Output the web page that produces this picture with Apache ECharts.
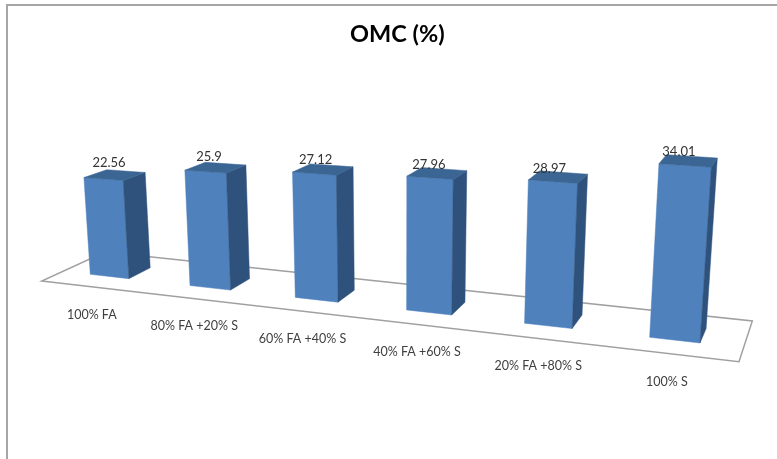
<!DOCTYPE html>
<html>
<head>
<meta charset="utf-8">
<style>html,body{margin:0;padding:0;background:#fff}#c{width:777px;height:459px}</style>
<script src="https://cdn.jsdelivr.net/npm/echarts@6/dist/echarts.min.js"></script>
</head>
<body>
<div id="c"></div>
<script>
var categories = ['100% FA', '80% FA +20% S', '60% FA +40% S', '40% FA +60% S', '20% FA +80% S', '100% S'];
var omcValues = [22.56, 25.9, 27.12, 27.96, 28.97, 34.01];

// Perspective set-up (style only): floor quad, vertical vanishing point
var quad = [[41.7, 281], [739, 361.7], [752.3, 321], [105, 252]];
var vanish = [400, 5000];
var BAR_FRAC = 0.39, W_FRONT = 0.32, W_BACK = 0.68;
var GRID = {left: 42, top: 160, width: 697, height: 200};
var Y_MAX = 40;

var H = (function () {
  var x0 = quad[0][0], y0 = quad[0][1], x1 = quad[1][0], y1 = quad[1][1],
      x2 = quad[2][0], y2 = quad[2][1], x3 = quad[3][0], y3 = quad[3][1];
  var dx1 = x1 - x2, dx2 = x3 - x2, sx = x0 - x1 + x2 - x3,
      dy1 = y1 - y2, dy2 = y3 - y2, sy = y0 - y1 + y2 - y3;
  var den = dx1 * dy2 - dx2 * dy1;
  var g = (sx * dy2 - dx2 * sy) / den, h = (dx1 * sy - sx * dy1) / den;
  return {a: x1 - x0 + g * x1, b: x3 - x0 + h * x3, c: x0,
          d: y1 - y0 + g * y1, e: y3 - y0 + h * y3, f: y0, g: g, h: h};
})();
function floorPt(u, w) {
  var q = H.g * u + H.h * w + 1;
  return [(H.a * u + H.b * w + H.c) / q, (H.d * u + H.e * w + H.f) / q];
}
// small lens correction of the category position along the floor
function bend(u) {
  var t = (u - 0.5) / 0.417;
  return u - 0.0062 + 0.002 * t * t;
}
// lift a floor point by a value-axis height
function lift(u, w, gridPx) {
  var P = floorPt(u, w);
  var unitPx = GRID.height / Y_MAX;
  var s = (4.25 + 0.98 * u) * (1 - 0.08 * (w - W_FRONT));
  var h = gridPx / unitPx * s;
  var dx = P[0] - vanish[0], dy = P[1] - vanish[1], L = Math.sqrt(dx * dx + dy * dy);
  return [P[0] + dx / L * h, P[1] + dy / L * h];
}
function poly(points, fill, z2) {
  return {type: 'polygon', z2: z2, shape: {points: points}, style: {fill: fill, stroke: fill, lineWidth: 0.5}};
}

function renderFloor(params, api) {
  return {type: 'polygon', shape: {points: [floorPt(0, 0), floorPt(1, 0), floorPt(1, 1), floorPt(0, 1)]},
    style: {fill: '#ffffff', stroke: '#a0a0a0', lineWidth: 1.5}};
}

function renderBar(params, api) {
  var i = api.value(0), v = api.value(1);
  var base = api.coord([i, 0]), top = api.coord([i, v]);
  var band = api.size([1, 0])[0];
  var raw = (base[0] - GRID.left) / GRID.width;
  var uc = bend(raw);
  var half = band * BAR_FRAC / 2 / GRID.width;
  var u0 = uc - half, u1 = uc + half, g = base[1] - top[1];
  var fbl = floorPt(u0, W_FRONT), fbr = floorPt(u1, W_FRONT), bbr = floorPt(u1, W_BACK);
  var ftl = lift(u0, W_FRONT, g), ftr = lift(u1, W_FRONT, g),
      btl = lift(u0, W_BACK, g), btr = lift(u1, W_BACK, g);
  var edge = floorPt(uc, 0), frontMid = floorPt(uc, W_FRONT);
  var topMid = (ftl[0] + ftr[0]) / 2;
  var labelX = topMid + (400 - topMid) * 0.02 - 0.5;
  var labelY = btl[1] - 5.5 - 2 + 5 * Math.min(1, raw * 1.6);
  var t = raw - 0.5;
  return {type: 'group', children: [
    poly([fbl, fbr, ftr, ftl], '#4f81bd', 1),
    poly([fbr, bbr, btr, ftr], '#2f527d', 1),
    poly([ftl, ftr, btr, btl], '#3b6593', 1),
    {type: 'text', z2: 3, style: {text: String(v), x: labelX, y: labelY, textAlign: 'center',
      textVerticalAlign: 'middle', fill: '#333', font: '13px Lato'}},
    {type: 'text', z2: 3, style: {text: categories[i], x: frontMid[0] - 19 + 12 * uc + 2 * t * t, y: edge[1] + 28, textAlign: 'center',
      textVerticalAlign: 'middle', fill: '#404040', font: '12.5px Lato'}}
  ]};
}

var chart = echarts.init(document.getElementById('c'), null, {renderer: 'canvas'});
chart.setOption({
  animation: false,
  backgroundColor: '#ffffff',
  title: {text: 'OMC (%)', left: 345, top: 17,
    textStyle: {fontFamily: 'Lato', fontWeight: 'bold', fontSize: 23.5, color: '#000'}},
  grid: GRID,
  xAxis: {type: 'category', data: categories, show: false},
  yAxis: {type: 'value', min: 0, max: Y_MAX, show: false},
  graphic: [{type: 'polyline', silent: true, shape: {points: [[7, 459], [7, 5], [777, 5]]},
    style: {fill: 'none', stroke: '#a6a6a6', lineWidth: 2}}],
  series: [
    {type: 'custom', name: 'floor', coordinateSystem: 'cartesian2d', z: 1, data: [[0, 0]], renderItem: renderFloor, silent: true},
    {type: 'custom', name: 'OMC (%)', coordinateSystem: 'cartesian2d', z: 2,
      data: omcValues.map(function (v, i) { return [i, v]; }), renderItem: renderBar, encode: {x: 0, y: 1}}
  ]
});
</script>
</body>
</html>
